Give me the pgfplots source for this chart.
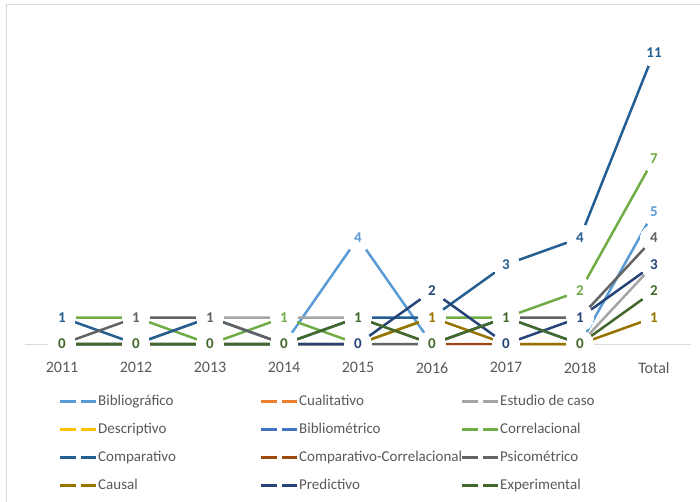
\documentclass[border=0pt]{standalone}
\usepackage{pgfplots}
\usepackage{pgfplotstable}
\pgfplotsset{compat=1.18}
\usepackage{fontspec}
\setmainfont{Carlito}
\definecolor{bib}{HTML}{5B9BD5}
\definecolor{cual}{HTML}{ED7D31}
\definecolor{est}{HTML}{A5A5A5}
\definecolor{desc}{HTML}{FFC000}
\definecolor{bibm}{HTML}{4472C4}
\definecolor{corr}{HTML}{70AD47}
\definecolor{comp}{HTML}{255E91}
\definecolor{ccorr}{HTML}{9E480E}
\definecolor{psico}{HTML}{636363}
\definecolor{causal}{HTML}{997300}
\definecolor{pred}{HTML}{264478}
\definecolor{exper}{HTML}{43682B}
\definecolor{tick}{HTML}{595959}
\definecolor{border}{HTML}{D9D9D9}

% x: 0=2011 ... 7=2018, 8=Total
\pgfplotstableread{
x bib cual est desc bibm corr comp ccorr psico causal pred exper
0 0 0   0 0   0   1 1  0   0 0 0 0
1 0 0   0 0   0   1 0  0   1 0 0 0
2 0 0   1 0   0   0 1  0   1 0 0 0
3 0 0   1 0   0   1 0  0   0 0 0 0
4 4 0   1 0   0   0 1  0   0 0 0 1
5 0 0   0 0   0   1 1  0   0 1 2 0
6 1 0   0 0   0   1 3  0   1 0 0 1
7 0 0   0 0   0   2 4  0   1 0 1 0
8 5 nan 3 nan nan 7 11 nan 4 1 3 2
}\data

\begin{document}
\begin{tikzpicture}
\begin{axis}[
  scale only axis, width=666bp, height=318bp,
  xmin=-0.5, xmax=8.5, ymin=0, ymax=12,
  axis line style={draw=none},
  major tick length=0pt,
  xtick={0,1,2,3,4,5,6,7,8},
  xticklabels={2011,2012,2013,2014,2015,2016,2017,2018,Total},
  xticklabel style={font=\fontsize{16bp}{19bp}\selectfont, text=tick, inner sep=0pt, anchor=north, yshift=-18bp},
  ytick=\empty,
  extra y ticks={0}, extra y tick labels={},
  extra y tick style={grid=major, major grid style={draw=border, line width=1bp}},
  clip=false,
  /pgf/number format/assume math mode=true,
  nodes near coords align={center},
  every node near coord/.append style={anchor=center, font=\bfseries\fontsize{15bp}{18bp}\selectfont, fill=white, inner sep=0.8bp},
  every axis plot/.append style={line width=2.5bp},
  legend columns=3,
  legend cell align=left,
  legend style={draw=none, fill=none, at={(0,0)}, anchor=north west, xshift=34bp, yshift=-50bp,
    font=\fontsize{15bp}{18bp}\selectfont, text=tick, inner sep=0pt, row sep=13bp, column sep=0pt,
    nodes={inner sep=0.5bp, text height=11bp, text depth=3bp}},
  legend image code/.code={\draw (0bp,0bp)--(16bp,0bp) (21bp,0bp)--(36bp,0bp);},
]
\addplot[bib, mark=none] table[x=x,y=bib]{\data};
\addlegendentry{\makebox[161.5bp][l]{Bibliográfico}}
\addplot[cual, mark=none] table[x=x,y=cual]{\data};
\addlegendentry{\makebox[161.5bp][l]{Cualitativo}}
\addplot[est, mark=none] table[x=x,y=est]{\data};
\addlegendentry{\makebox[161.5bp][l]{Estudio de caso}}
\addplot[desc, mark=none] table[x=x,y=desc]{\data};
\addlegendentry{\makebox[161.5bp][l]{Descriptivo}}
\addplot[bibm, mark=none] table[x=x,y=bibm]{\data};
\addlegendentry{\makebox[161.5bp][l]{Bibliométrico}}
\addplot[corr, mark=none] table[x=x,y=corr]{\data};
\addlegendentry{\makebox[161.5bp][l]{Correlacional}}
\addplot[comp, mark=none] table[x=x,y=comp]{\data};
\addlegendentry{\makebox[161.5bp][l]{Comparativo}}
\addplot[ccorr, mark=none] table[x=x,y=ccorr]{\data};
\addlegendentry{\makebox[161.5bp][l]{Comparativo-Correlacional}}
\addplot[psico, mark=none] table[x=x,y=psico]{\data};
\addlegendentry{\makebox[161.5bp][l]{Psicométrico}}
\addplot[causal, mark=none] table[x=x,y=causal]{\data};
\addlegendentry{\makebox[161.5bp][l]{Causal}}
\addplot[pred, mark=none] table[x=x,y=pred]{\data};
\addlegendentry{\makebox[161.5bp][l]{Predictivo}}
\addplot[exper, mark=none] table[x=x,y=exper]{\data};
\addlegendentry{\makebox[161.5bp][l]{Experimental}}
% white markers that open the lines around each point
\pgfplotsinvokeforeach{bib,cual,est,desc,bibm,corr,comp,ccorr,psico,causal,pred,exper}{
  \addplot[forget plot, only marks, mark=*, mark size=13.5bp, draw=white, fill=white, mark options={draw=white, fill=white, line width=0pt}] table[x=x,y=#1]{\data};
}
% data labels
\pgfplotsinvokeforeach{bib,cual,est,desc,bibm,corr,comp,ccorr,psico,causal,pred,exper}{
  \addplot[forget plot, draw=none, mark=none, nodes near coords, every node near coord/.append style={text=#1}] table[x=x,y=#1]{\data};
}
\end{axis}
\draw[border, line width=1bp] ([xshift=-18bp,yshift=-158bp]current axis.south west) -- ([xshift=-18bp,yshift=339bp]current axis.south west) -- ([xshift=675bp,yshift=339bp]current axis.south west);
\pgfresetboundingbox
\path ([xshift=-25bp,yshift=-158bp]current axis.south west) rectangle ([xshift=675bp,yshift=344bp]current axis.south west);
\end{tikzpicture}
\end{document}
